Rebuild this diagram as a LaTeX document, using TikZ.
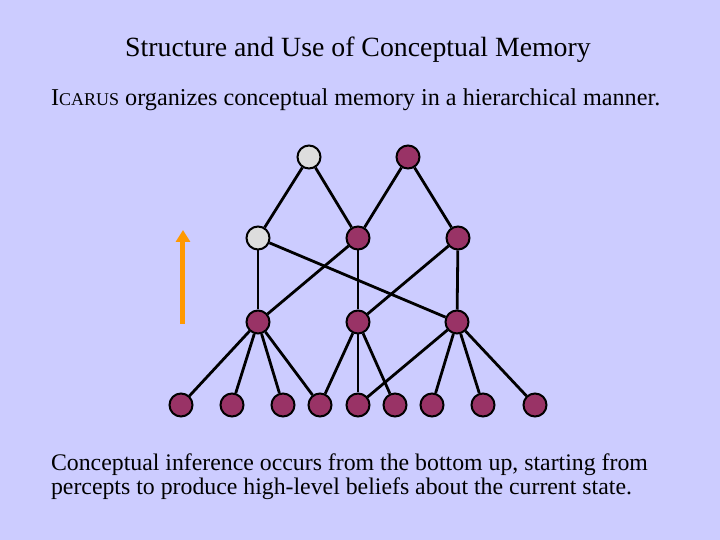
\documentclass[tikz,border=0pt]{standalone}
\usepackage{fontspec}
\setmainfont{Liberation Serif}
\usetikzlibrary{arrows.meta}
\definecolor{bgblue}{RGB}{204,204,255}
\definecolor{concept}{RGB}{153,51,102}
\definecolor{lit}{RGB}{221,221,221}
\definecolor{upar}{RGB}{255,153,0}
\tikzset{
  cnode/.style={shape=circle, draw=black, fill=concept, line width=1pt, minimum size=11.5pt, inner sep=0pt},
  gnode/.style={cnode, fill=lit},
  link/.style={line width=1.4pt}
}
\begin{document}
\begin{tikzpicture}[x=0.5pt,y=-0.5pt]
    \fill[bgblue] (0,0) rectangle (720,540);
    %texts
    \node (title) at (358,50) {\fontsize{13.9pt}{16pt}\selectfont Structure and Use of Conceptual Memory};
    \node[anchor=west] (intro) at (44,100) {\fontsize{12.1pt}{14pt}\selectfont I{\fontsize{9pt}{10pt}\selectfont CARUS} organizes conceptual memory in a hierarchical manner.};
    \node[anchor=north west, align=left] (outro) at (44,447) {\fontsize{11.9pt}{14pt}\selectfont Conceptual inference occurs from the bottom up, starting from\\ \fontsize{11.9pt}{14pt}\selectfont percepts to produce high-level beliefs about the current state.};
    %top
    \node[gnode] (ta) at (309,157) {};
    \node[cnode] (tb) at (408,157) {};
    %second
    \node[gnode] (sa) at (258,238) {};
    \node[cnode] (sb) at (358,238) {};
    \node[cnode] (sc) at (458,238) {};
    %third
    \node[cnode] (ma) at (258,322) {};
    \node[cnode] (mb) at (358,322) {};
    \node[cnode] (mc) at (457,322) {};
    %percepts
    \foreach \n/\x in {1/181,2/232,3/283,4/320,5/358,6/395,7/432,8/483,9/535}
        \node[cnode] (p\n) at (\x,405) {};
    %links
    \foreach \a/\b in {ta/sa,ta/sb,tb/sb,tb/sc,sa/ma,sa/mc,sb/ma,sb/mb,sc/mb,sc/mc,
        ma/p1,ma/p2,ma/p3,ma/p4,mb/p4,mb/p5,mb/p6,mc/p5,mc/p7,mc/p8,mc/p9}
        \draw[link] (\a) -- (\b);
    %direction
    \coordinate (arrlo) at (183,324);
    \coordinate (arrhi) at (183,230);
    \draw[upar, line width=2.5pt, -{Triangle[length=6pt,width=7pt]}] (arrlo) -- (arrhi);
\end{tikzpicture}
\end{document}
